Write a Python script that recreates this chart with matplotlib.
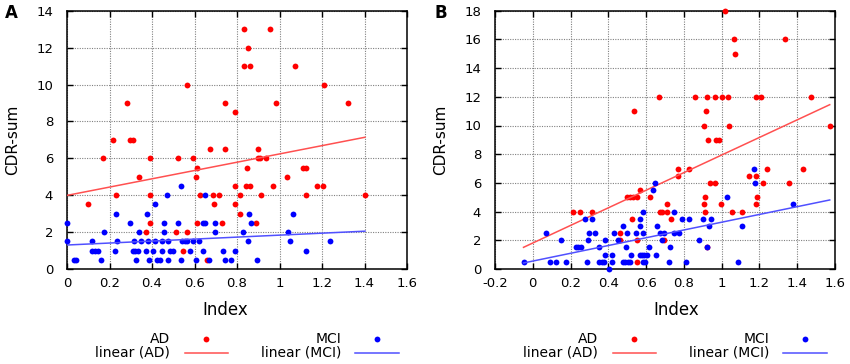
import matplotlib.pyplot as plt

# ---- panel A ----
ad_a_x = [0.831, 0.955,
          0.850,
          0.835, 0.863, 1.073,
          0.566, 1.211,
          0.282, 0.742, 0.984, 1.321,
          0.792,
          0.215, 0.296, 0.309,
          0.675, 0.742, 0.900,
          0.169, 0.391, 0.521, 0.593, 0.897, 0.907, 0.938,
          0.610, 0.845, 1.109, 1.125,
          0.340, 0.605, 1.035,
          0.789, 0.841, 0.861, 0.968, 1.175, 1.205,
          0.229, 0.391, 0.626, 0.685, 0.717, 0.814, 0.913, 1.123, 1.402,
          0.099, 0.693, 0.789,
          0.814,
          0.391, 0.610, 0.729, 0.889,
          0.372, 0.515, 0.563,
          0.544,
          0.659]
ad_a_y = [13, 13,
          12,
          11, 11, 11,
          10, 10,
          9, 9, 9, 9,
          8.5,
          7, 7, 7,
          6.5, 6.5, 6.5,
          6, 6, 6, 6, 6, 6, 6,
          5.5, 5.5, 5.5, 5.5,
          5, 5, 5,
          4.5, 4.5, 4.5, 4.5, 4.5, 4.5,
          4, 4, 4, 4, 4, 4, 4, 4, 4,
          3.5, 3.5, 3.5,
          3,
          2.5, 2.5, 2.5, 2.5,
          2, 2, 2,
          1,
          0.5]

mci_a_x = [0.538,
           0.469, 0.648,
           0.414,
           0.232, 0.375, 0.855, 1.062,
           0.0, 0.295, 0.458, 0.521, 0.638, 0.648, 0.698, 0.866,
           0.173, 0.339, 0.458, 0.698, 0.828, 1.040,
           0.0, 0.119, 0.234, 0.315, 0.350, 0.383, 0.414, 0.446, 0.477,
           0.543, 0.554, 0.566, 0.595, 0.623, 0.850, 1.051, 1.238,
           0.119, 0.132, 0.147, 0.224, 0.309, 0.322, 0.336, 0.372, 0.406,
           0.449, 0.485, 0.500, 0.577, 0.642, 0.736, 0.792, 1.123,
           0.031, 0.044, 0.158, 0.325, 0.387, 0.424, 0.436, 0.477, 0.535,
           0.607, 0.667, 0.742, 0.770, 0.893]
mci_a_y = [4.5,
           4, 4,
           3.5,
           3, 3, 3, 3,
           2.5, 2.5, 2.5, 2.5, 2.5, 2.5, 2.5, 2.5,
           2, 2, 2, 2, 2, 2,
           1.5, 1.5, 1.5, 1.5, 1.5, 1.5, 1.5, 1.5, 1.5,
           1.5, 1.5, 1.5, 1.5, 1.5, 1.5, 1.5, 1.5,
           1, 1, 1, 1, 1, 1, 1, 1, 1,
           1, 1, 1, 1, 1, 1, 1, 1,
           0.5, 0.5, 0.5, 0.5, 0.5, 0.5, 0.5, 0.5, 0.5,
           0.5, 0.5, 0.5, 0.5, 0.5]

fit_ad_a_x = [0.0, 1.402]
fit_ad_a_y = [3.99, 7.14]
fit_mci_a_x = [0.0, 1.402]
fit_mci_a_y = [1.30, 2.05]

# ---- panel B ----
ad_b_x = [1.020,
          1.066, 1.336,
          1.071,
          0.669, 0.858, 0.921, 0.965, 1.000, 1.031, 1.181, 1.207, 1.473,
          0.536, 0.919,
          0.907, 1.041, 1.572,
          0.925, 0.969, 0.985,
          0.768, 0.826, 1.241, 1.429,
          0.768, 1.147, 1.181,
          0.937, 0.967, 1.219, 1.359,
          0.570,
          0.498, 0.515, 0.533, 0.551, 0.623, 0.914, 1.186,
          0.709, 0.909, 0.995, 1.181,
          0.212, 0.252, 0.316, 0.674, 0.685, 0.711, 0.914, 1.053, 1.106,
          0.524, 0.731,
          0.464,
          0.460, 0.552, 0.693,
          0.920,
          0.550]
ad_b_y = [18,
          16, 16,
          15,
          12, 12, 12, 12, 12, 12, 12, 12, 12,
          11, 11,
          10, 10, 10,
          9, 9, 9,
          7, 7, 7, 7,
          6.5, 6.5, 6.5,
          6, 6, 6, 6,
          5.5,
          5, 5, 5, 5, 5, 5, 5,
          4.5, 4.5, 4.5, 4.5,
          4, 4, 4, 4, 4, 4, 4, 4, 4,
          3.5, 3.5,
          2.5,
          2, 2, 2,
          1.5,
          0.5]

mci_b_x = [1.170,
           0.649, 1.177,
           0.639,
           1.029,
           1.380,
           0.586, 0.745,
           0.279, 0.316, 0.565, 0.790, 0.829, 0.902, 0.942,
           0.480, 0.566, 0.655, 0.932, 1.106,
           0.071, 0.296, 0.330, 0.429, 0.498, 0.545, 0.584, 0.671, 0.693,
           0.750, 0.776,
           0.150, 0.291, 0.383, 0.450, 0.686, 0.879,
           0.228, 0.242, 0.254, 0.348, 0.491, 0.614, 0.727, 0.921,
           0.383, 0.422, 0.519, 0.565, 0.579, 0.591, 0.603, 0.651,
           -0.049, 0.092, 0.125, 0.178, 0.286, 0.351, 0.365, 0.378, 0.422,
           0.475, 0.489, 0.503, 0.517, 0.581, 0.595, 0.722, 0.809, 1.085,
           0.401]
mci_b_y = [7,
           6, 6,
           5.5,
           5,
           4.5,
           4, 4,
           3.5, 3.5, 3.5, 3.5, 3.5, 3.5, 3.5,
           3, 3, 3, 3, 3,
           2.5, 2.5, 2.5, 2.5, 2.5, 2.5, 2.5, 2.5, 2.5,
           2.5, 2.5,
           2, 2, 2, 2, 2, 2,
           1.5, 1.5, 1.5, 1.5, 1.5, 1.5, 1.5, 1.5,
           1, 1, 1, 1, 1, 1, 1, 1,
           0.5, 0.5, 0.5, 0.5, 0.5, 0.5, 0.5, 0.5, 0.5,
           0.5, 0.5, 0.5, 0.5, 0.5, 0.5, 0.5, 0.5, 0.5,
           0]

fit_ad_b_x = [-0.049, 1.572]
fit_ad_b_y = [1.51, 11.45]
fit_mci_b_x = [-0.049, 1.572]
fit_mci_b_y = [0.42, 4.81]

xticks_a = [0, 0.2, 0.4, 0.6, 0.8, 1.0, 1.2, 1.4, 1.6]
xlabels_a = ["0", "0.2", "0.4", "0.6", "0.8", "1", "1.2", "1.4", "1.6"]
xticks_b = [-0.2, 0, 0.2, 0.4, 0.6, 0.8, 1.0, 1.2, 1.4, 1.6]
xlabels_b = ["-0.2", "0", "0.2", "0.4", "0.6", "0.8", "1", "1.2", "1.4", "1.6"]
yticks_a = [0, 2, 4, 6, 8, 10, 12, 14]
yticks_b = [0, 2, 4, 6, 8, 10, 12, 14, 16, 18]

RED = '#ff0000'
BLUE = '#0000ff'
RED_LINE = '#ff5050'
BLUE_LINE = '#5050ff'

fig = plt.figure(figsize=(8.5, 3.64), dpi=100)
axA = fig.add_axes([67 / 850, 95 / 364, 340 / 850, 258.3 / 364])
axB = fig.add_axes([495 / 850, 95 / 364, 340 / 850, 258.3 / 364])


def draw_panel(ax, ad_x, ad_y, fad_x, fad_y, mci_x, mci_y, fmci_x, fmci_y,
               xticks, xlabels, yticks, xlabel_pos):
    ax.plot(ad_x, ad_y, 'o', color=RED, ms=4.2, mec='none', clip_on=False, zorder=3)
    ax.plot(fad_x, fad_y, '-', color=RED_LINE, lw=1.1, zorder=4)
    ax.plot(mci_x, mci_y, 'o', color=BLUE, ms=4.2, mec='none', clip_on=False, zorder=5)
    ax.plot(fmci_x, fmci_y, '-', color=BLUE_LINE, lw=1.1, zorder=6)

    ax.set_xlim(xticks[0], xticks[-1])
    ax.set_ylim(yticks[0], yticks[-1])
    ax.set_xticks(xticks)
    ax.set_xticklabels(xlabels)
    ax.set_yticks(yticks)
    ax.tick_params(direction='in', length=4.5, width=1.0, top=True, right=True,
                   labelsize=9.5)
    ax.tick_params(axis='x', pad=6)
    ax.tick_params(axis='y', pad=10)
    for s in ax.spines.values():
        s.set_linewidth(1.1)
    ax.grid(True, color='#808080', linestyle=(0, (1, 1.2)), linewidth=0.8)
    ax.set_axisbelow(True)

    ax.set_xlabel('Index', fontsize=12)
    ax.xaxis.label.set_va('center')
    ax.xaxis.set_label_coords(xlabel_pos, -0.159)
    ax.set_ylabel('CDR-sum', fontsize=11)
    ax.yaxis.label.set_va('center')
    ax.yaxis.set_label_coords(-0.16, 0.5)

    # legend below the panel, text right-aligned before each key
    tr = ax.transAxes
    y1, y2 = -0.271, -0.325
    for tx, kx, lx, col, lcol, name in [(0.303, 0.409, (0.346, 0.474), RED, RED_LINE, 'AD'),
                                        (0.808, 0.911, (0.846, 0.975), BLUE, BLUE_LINE, 'MCI')]:
        ax.text(tx, y1, name, transform=tr, ha='right', va='center', fontsize=10)
        ax.text(tx, y2, 'linear (%s)' % name, transform=tr, ha='right', va='center', fontsize=10)
        ax.plot([kx], [y1], 'o', color=col, ms=4.2, mec='none', transform=tr, clip_on=False)
        ax.plot(list(lx), [y2, y2], '-', color=lcol, lw=1.1, transform=tr, clip_on=False)


draw_panel(axA, ad_a_x, ad_a_y, fit_ad_a_x, fit_ad_a_y,
           mci_a_x, mci_a_y, fit_mci_a_x, fit_mci_a_y,
           xticks_a, xlabels_a, yticks_a, 0.465)
draw_panel(axB, ad_b_x, ad_b_y, fit_ad_b_x, fit_ad_b_y,
           mci_b_x, mci_b_y, fit_mci_b_x, fit_mci_b_y,
           xticks_b, xlabels_b, yticks_b, 0.532)

fig.text(11.5 / 850, 1 - 13.5 / 364, 'A', fontsize=12, fontweight='bold', ha='center', va='center')
fig.text(441 / 850, 1 - 12.5 / 364, 'B', fontsize=12, fontweight='bold', ha='center', va='center')

fig.savefig('out.png', dpi=100)
